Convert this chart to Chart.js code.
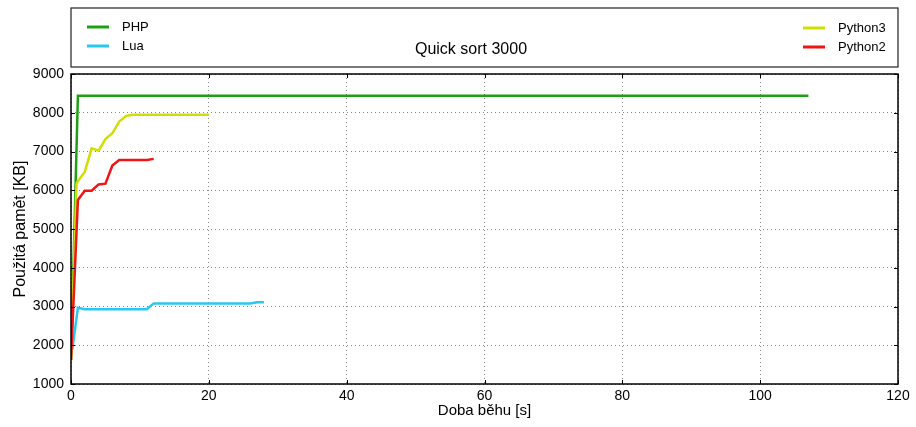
<!DOCTYPE html>
<html>
<head>
<meta charset="utf-8">
<script src="https://cdn.jsdelivr.net/npm/chart.js@4.4.1/dist/chart.umd.min.js"></script>
<style>
  body { margin: 0; background: #fff; }
  #wrap { width: 916px; height: 427px; }
</style>
</head>
<body>
<div id="wrap"><canvas id="c"></canvas></div>
<script>
// values
const phpX = [0, 1, 107];
const phpY = [1620, 8440, 8440];
const luaX = [0.2, 1, 2, 11, 12, 26, 27, 28];
const luaY = [1900, 2970, 2930, 2930, 3080, 3080, 3110, 3110];
const py3X = [0, 0.8, 2, 3, 4, 5, 6, 7, 8, 9, 20];
const py3Y = [1620, 6180, 6480, 7080, 7020, 7320, 7470, 7770, 7920, 7950, 7950];
const py2X = [0, 1, 2, 3, 4, 5, 6, 7, 11, 12];
const py2Y = [1620, 5750, 5990, 5990, 6150, 6170, 6640, 6780, 6780, 6810];
const xTicks = [0, 20, 40, 60, 80, 100, 120];
const yTicks = [1000, 2000, 3000, 4000, 5000, 6000, 7000, 8000, 9000];

const FONT = 'Liberation Sans, Arial, sans-serif';

function pts(xs, ys) {
  return xs.map((x, i) => ({x: x, y: ys[i]}));
}

const series = [
  {label: 'PHP', data: pts(phpX, phpY), color: 'rgb(30, 160, 20)', order: 4},
  {label: 'Lua', data: pts(luaX, luaY), color: 'rgb(40, 200, 240)', order: 3},
  {label: 'Python3', data: pts(py3X, py3Y), color: 'rgb(210, 222, 0)', order: 2},
  {label: 'Python2', data: pts(py2X, py2Y), color: 'rgb(240, 20, 20)', order: 1}
];

// box round the plot, inward ticks, and the legend box with the title
const framePlugin = {
  id: 'frame',
  afterDraw(chart) {
    const ctx = chart.ctx;
    const a = chart.chartArea;
    const xs = chart.scales.x, ys = chart.scales.y;
    ctx.save();
    ctx.strokeStyle = '#000';
    ctx.lineWidth = 1;
    ctx.beginPath();
    xTicks.forEach(v => {
      const px = Math.round(xs.getPixelForValue(v)) + 0.5;
      ctx.moveTo(px, a.bottom); ctx.lineTo(px, a.bottom - 4);
      ctx.moveTo(px, a.top); ctx.lineTo(px, a.top + 4);
    });
    yTicks.forEach(v => {
      const py = Math.round(ys.getPixelForValue(v)) + 0.5;
      ctx.moveTo(a.left, py); ctx.lineTo(a.left + 4, py);
      ctx.moveTo(a.right, py); ctx.lineTo(a.right - 4, py);
    });
    ctx.stroke();
    ctx.lineWidth = 1.5;
    ctx.strokeRect(a.left, a.top, a.right - a.left, a.bottom - a.top);

    // legend box
    const top = 8, bottom = 67;
    ctx.lineWidth = 1.2;
    ctx.strokeStyle = '#222';
    ctx.strokeRect(a.left, top, a.right - a.left, bottom - top);
    ctx.font = '13px ' + FONT;
    ctx.textBaseline = 'middle';
    ctx.textAlign = 'left';
    const items = [
      {s: series[0], lx: 87, tx: 122, y: 27},
      {s: series[1], lx: 87, tx: 122, y: 46},
      {s: series[2], lx: 803, tx: 838, y: 28},
      {s: series[3], lx: 803, tx: 838, y: 47}
    ];
    items.forEach(it => {
      ctx.strokeStyle = it.s.color;
      ctx.lineWidth = 3;
      ctx.beginPath();
      ctx.moveTo(it.lx, it.y); ctx.lineTo(it.lx + 22, it.y);
      ctx.stroke();
      ctx.fillStyle = '#000';
      ctx.fillText(it.s.label, it.tx, it.y);
    });
    ctx.font = '16px ' + FONT;
    ctx.textAlign = 'center';
    ctx.fillText('Quick sort 3000', 471, 50);
    ctx.restore();
  }
};

new Chart(document.getElementById('c'), {
  type: 'line',
  data: {
    datasets: series.map(s => ({
      label: s.label,
      data: s.data,
      borderColor: s.color,
      backgroundColor: s.color,
      borderWidth: 2.5,
      pointRadius: 0,
      tension: 0,
      order: s.order
    }))
  },
  options: {
    animation: false,
    responsive: true,
    maintainAspectRatio: false,
    layout: { padding: { top: 74, right: 18, left: 0, bottom: 0 } },
    plugins: { legend: { display: false }, tooltip: { enabled: false } },
    scales: {
      x: {
        type: 'linear',
        min: 0, max: 120,
        afterBuildTicks: s => { s.ticks = xTicks.map(v => ({value: v})); },
        afterFit: s => { s.height = 43; },
        ticks: { color: '#000', font: { family: FONT, size: 14 }, padding: 4, maxRotation: 0, callback: v => String(v) },
        grid: { color: '#888', drawTicks: false, lineWidth: 1 },
        border: { display: false, dash: [1, 3] },
        title: { display: true, text: 'Doba běhu [s]', color: '#000', font: { family: FONT, size: 15 }, padding: { top: 0, bottom: 7 } }
      },
      y: {
        min: 1000, max: 9000,
        afterBuildTicks: s => { s.ticks = yTicks.map(v => ({value: v})); },
        afterFit: s => { s.width = 71; },
        ticks: { color: '#000', font: { family: FONT, size: 14 }, padding: 7, callback: v => String(v) },
        grid: { color: '#888', drawTicks: false, lineWidth: 1 },
        border: { display: false, dash: [1, 3] },
        title: { display: true, text: 'Použitá pamět [KB]', color: '#000', font: { family: FONT, size: 16 }, padding: { top: 11, bottom: 0 } }
      }
    }
  },
  plugins: [framePlugin]
});
</script>
</body>
</html>
